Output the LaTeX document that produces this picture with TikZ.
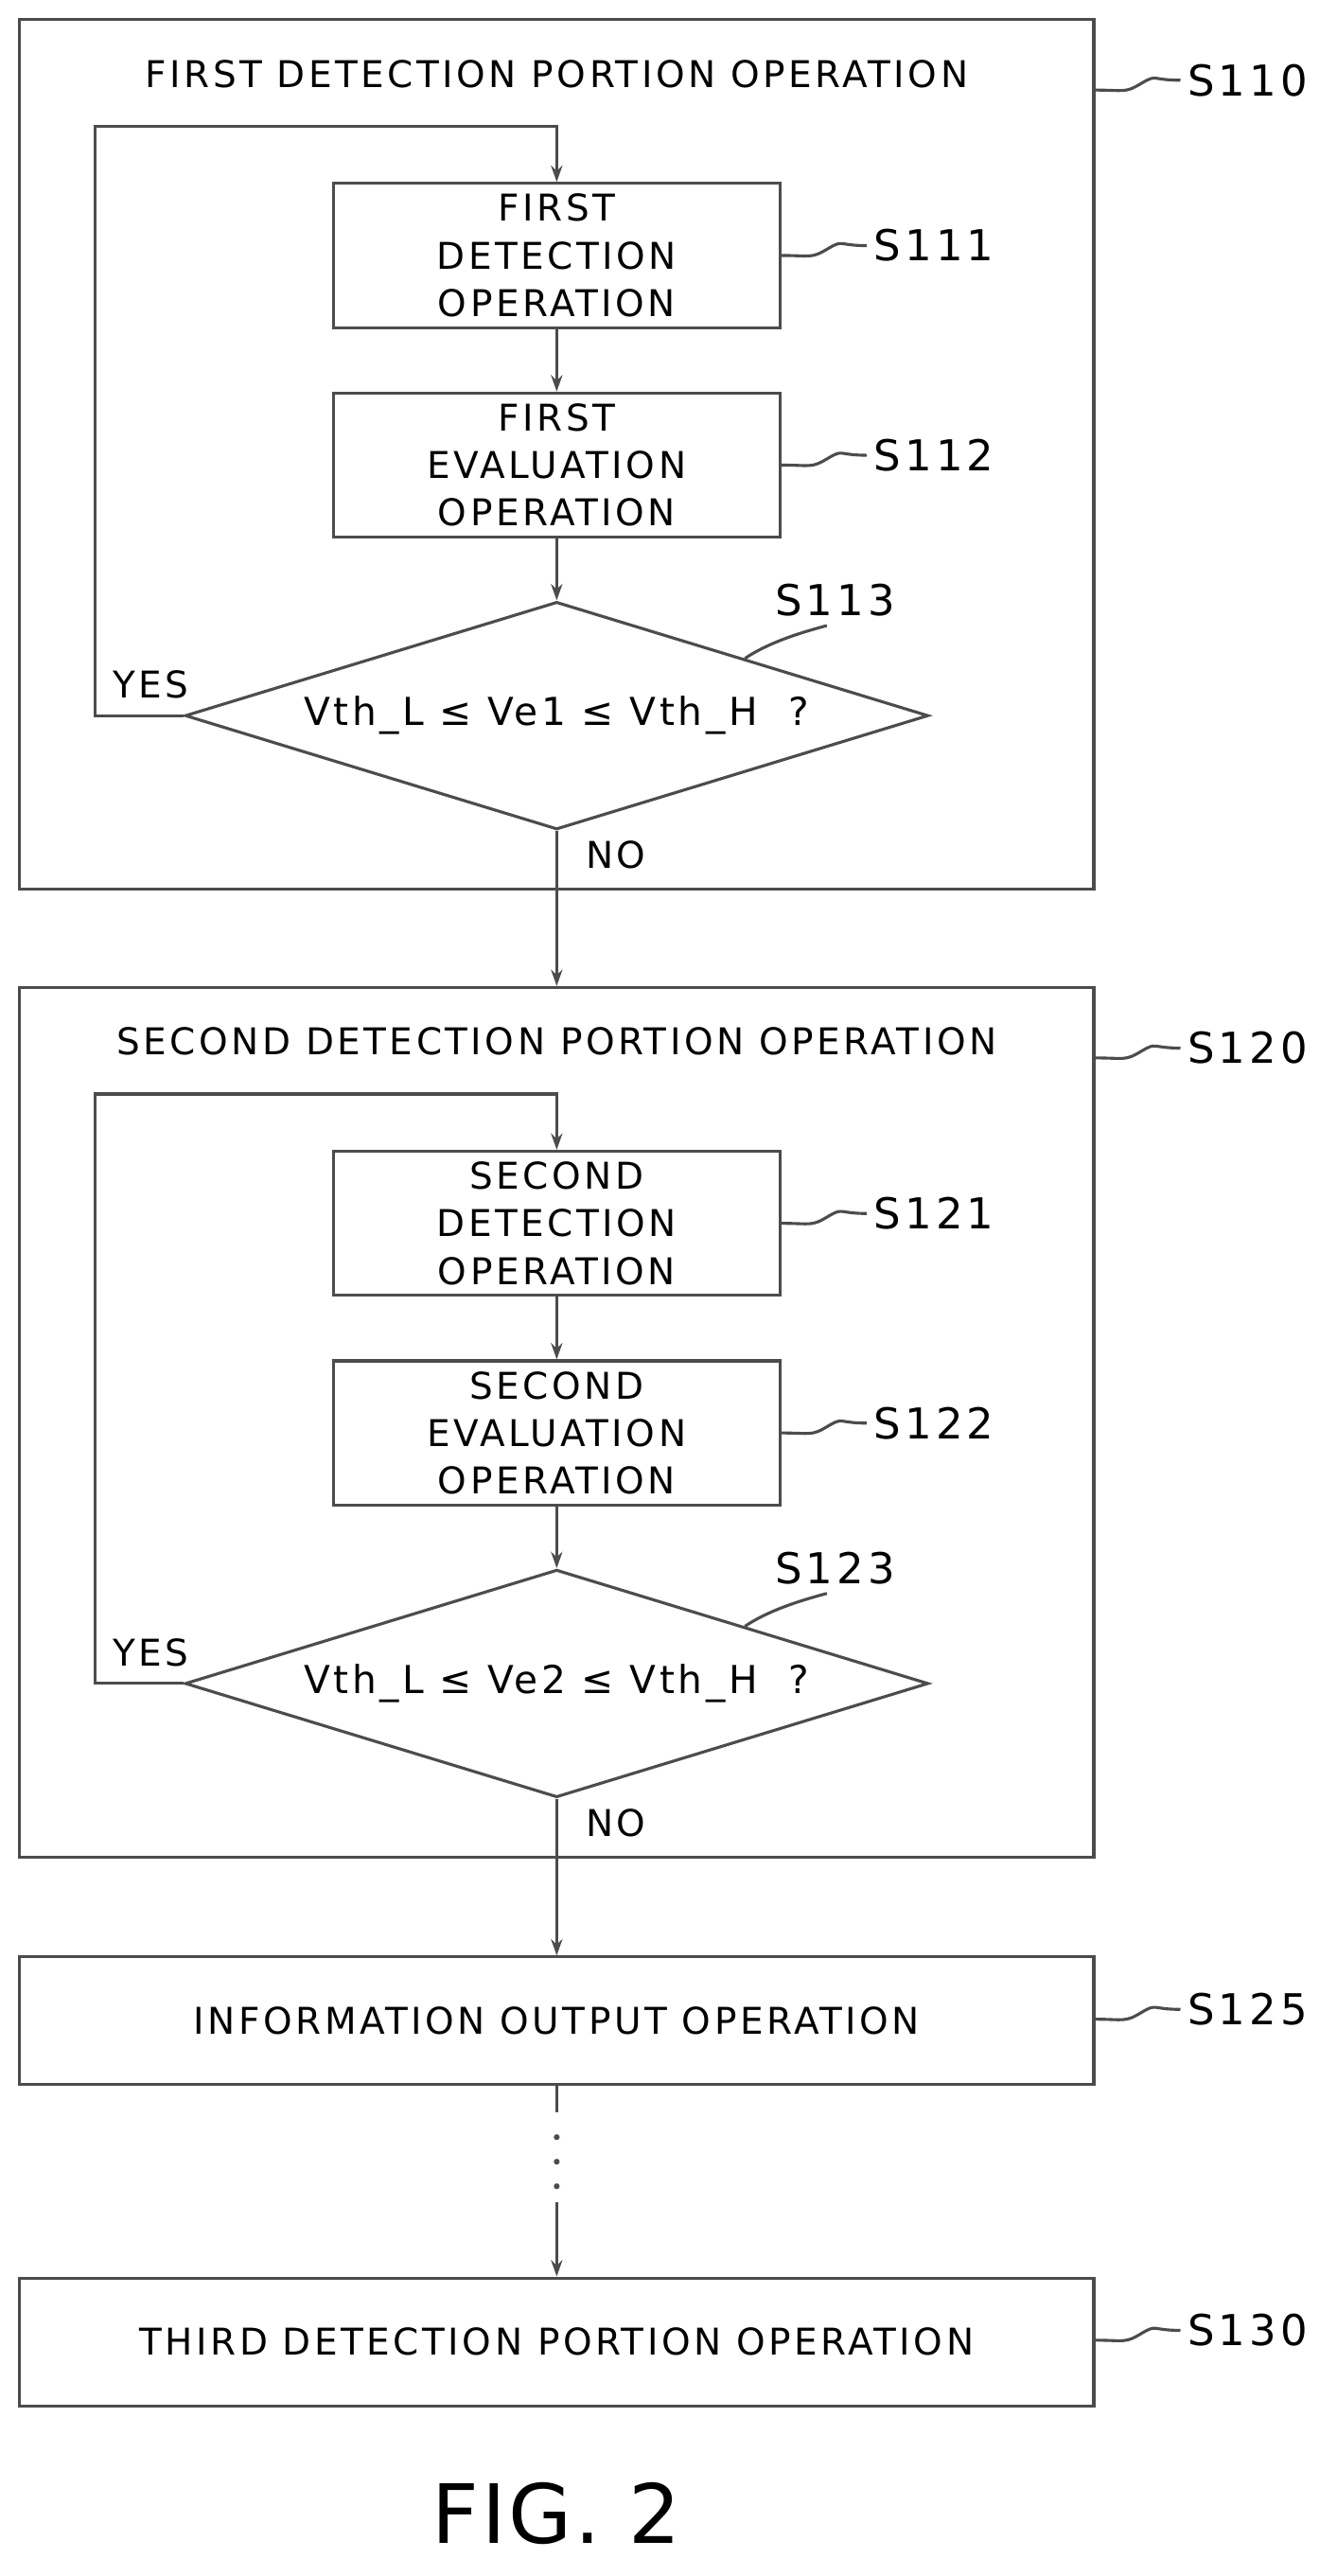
\documentclass[tikz,border=0pt]{standalone}
\usepackage{fontspec}
\setmainfont{DejaVu Sans}[LetterSpace=9]
\newfontfamily\figfont{DejaVu Sans}[LetterSpace=3]
\usetikzlibrary{arrows.meta,shapes.geometric}
\begin{document}
\begin{tikzpicture}[x=1pt,y=-1pt,
  ln/.style={draw=black!70,line width=1.8pt},
  arr/.style={ln,-{Stealth[length=10pt,width=7pt]}},
  box/.style={ln,rectangle,minimum width=273pt,minimum height=88pt,align=center,font=\fontsize{22.5}{29}\selectfont},
  wide/.style={ln,rectangle,minimum width=656pt,minimum height=78pt,font=\fontsize{22.5}{24}\selectfont},
  dia/.style={ln,diamond,aspect=3.27,minimum width=454pt,minimum height=139pt,inner sep=0pt,font=\fontsize{23.5}{26}\selectfont},
  lab/.style={font=\fontsize{26}{30}\selectfont,anchor=west},
  txt/.style={font=\fontsize{22.5}{26}\selectfont}]
\useasboundingbox (0,0) rectangle (816,1573);
\newcommand{\squig}[3]{\draw[ln] (#1) .. controls +(18,0) and +(-10,6) .. +(28,-4) .. controls +(10,-6) and +(-18,0) .. +(52,-6) coordinate (#3);\node[lab] at ([xshift=1pt]#3) {#2};}
\newcommand{\block}[9]{%
 \begin{scope}[shift={(0,#1)}]
  \node[ln,rectangle,minimum width=656pt,minimum height=531pt] (#2o) at (340,277.5) {};
  \node[txt] (#2t) at (340,45) {#3};
  \node[box] (#2a) at (340,156) {#4\\DETECTION\\OPERATION};
  \node[box] (#2b) at (340,284) {#4\\EVALUATION\\OPERATION};
  \node[dia] (#2d) at (340,437) {Vth\_L ≤ #5 ≤ Vth\_H\ \ ?};
  \coordinate (#2c) at (340,77);
  \draw[arr] (#2d.west) -- (58,437) -- (58,77) -- (#2c) -- (#2a.north);
  \draw[arr] (#2a.south) -- (#2b.north);
  \draw[arr] (#2b.south) -- (#2d.north);
  \node[txt] (#2y) at (92,418) {YES};
  \node[txt] (#2n) at (376,522) {NO};
  \coordinate (#2o1) at (#2o.north east |- 0,55);
  \coordinate (#2a1) at (#2a.east);
  \coordinate (#2b1) at (#2b.east);
  \squig{#2o1}{#6}{#2q1}
  \squig{#2a1}{#7}{#2q2}
  \squig{#2b1}{#8}{#2q3}
  \coordinate (#2e) at (455,402);
  \draw[ln] (#2e) .. controls (470,392) and (490,386) .. (505,382);
  \node[lab,anchor=south] (#2s) at (510,380) {#9};
 \end{scope}}
\block{0}{A}{FIRST DETECTION PORTION OPERATION}{FIRST}{Ve1}{S110}{S111}{S112}{S113}
\block{591}{B}{SECOND DETECTION PORTION OPERATION}{SECOND}{Ve2}{S120}{S121}{S122}{S123}
\node[wide] (C) at (340,1234) {INFORMATION OUTPUT OPERATION};
\node[wide] (D) at (340,1430) {THIRD DETECTION PORTION OPERATION};
\coordinate (Ce) at (C.east |- 0,1233);
\coordinate (De) at (D.east |- 0,1429);
\squig{Ce}{S125}{q5}
\squig{De}{S130}{q6}
\draw[arr] (Ad.south) -- (Bo.north);
\draw[arr] (Bd.south) -- (C.north);
\coordinate (dt) at (340,1290);
\coordinate (db) at (340,1345);
\draw[ln] (C.south) -- (dt);
\foreach \yy in {1305,1320,1335} \fill[black!70] (340,\yy) circle (1.8pt);
\draw[arr] (db) -- (D.north);
\node[font=\figfont\fontsize{50}{58}\selectfont] (F) at (340,1535) {FIG. 2};
\end{tikzpicture}
\end{document}
